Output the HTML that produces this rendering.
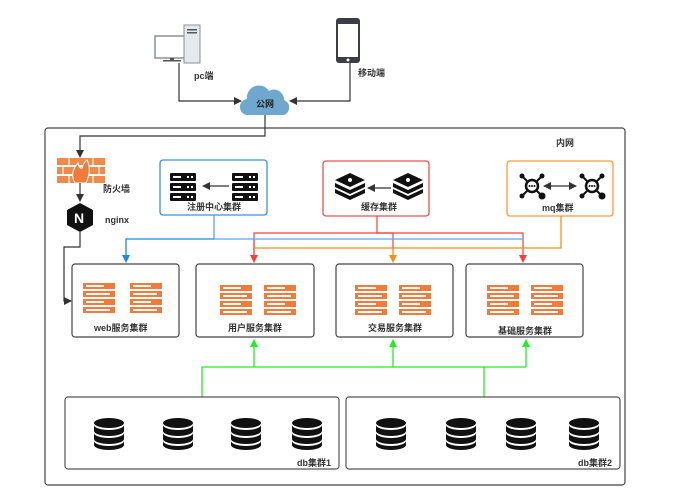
<!DOCTYPE html>
<html><head><meta charset="utf-8"><style>
body{margin:0;background:#fff}
svg{display:block}
text{font-family:"Liberation Sans","Noto Sans CJK SC",sans-serif;font-size:9px;font-weight:bold;fill:#333}
</style></head><body>
<svg width="677" height="492" viewBox="0 0 677 492" xmlns="http://www.w3.org/2000/svg">
<defs>
<marker id="ak" markerWidth="8" markerHeight="8" refX="7" refY="4" orient="auto" markerUnits="userSpaceOnUse"><path d="M0,0 L8,4 L0,8 z" fill="#333"/></marker>
<marker id="ab" markerWidth="8" markerHeight="8" refX="7" refY="4" orient="auto" markerUnits="userSpaceOnUse"><path d="M0,0 L8,4 L0,8 z" fill="#1e88e5"/></marker>
<marker id="ar" markerWidth="8" markerHeight="8" refX="7" refY="4" orient="auto" markerUnits="userSpaceOnUse"><path d="M0,0 L8,4 L0,8 z" fill="#f04040"/></marker>
<marker id="ao" markerWidth="8" markerHeight="8" refX="7" refY="4" orient="auto" markerUnits="userSpaceOnUse"><path d="M0,0 L8,4 L0,8 z" fill="#ff8c1a"/></marker>
<marker id="ag" markerWidth="8" markerHeight="8" refX="7" refY="4" orient="auto" markerUnits="userSpaceOnUse"><path d="M0,0 L8,4 L0,8 z" fill="#22ee22"/></marker>
<g id="srv"><rect x="0" y="0" width="32" height="6" fill="#f07b3a"/><rect x="3" y="2" width="18" height="2" fill="#fff"/><rect x="0" y="8" width="32" height="6" fill="#f07b3a"/><rect x="3" y="10" width="24" height="2" fill="#fff"/><rect x="0" y="16" width="32" height="6" fill="#f07b3a"/><rect x="3" y="18" width="18" height="2" fill="#fff"/><rect x="0" y="24" width="32" height="6" fill="#f07b3a"/><rect x="3" y="26" width="24" height="2" fill="#fff"/></g>
<g id="db"><ellipse cx="15" cy="5" rx="15" ry="5" fill="#111"/><path d="M0,7 v6 a15,5 0 0 0 30,0 v-6 a15,5 0 0 1 -30,0z" fill="#111"/><path d="M0,15 v6 a15,5 0 0 0 30,0 v-6 a15,5 0 0 1 -30,0z" fill="#111"/><path d="M0,23 v4 a15,5 0 0 0 30,0 v-4 a15,5 0 0 1 -30,0z" fill="#111"/></g>
<g id="bs"><rect x="0" y="0" width="26" height="8" rx="1" fill="#111"/><rect x="3" y="3" width="8" height="2" fill="#fff"/><rect x="17" y="3" width="2" height="2" fill="#fff"/><rect x="21" y="3" width="2" height="2" fill="#fff"/><rect x="0" y="10" width="26" height="8" rx="1" fill="#111"/><rect x="3" y="13" width="8" height="2" fill="#fff"/><rect x="17" y="13" width="2" height="2" fill="#fff"/><rect x="21" y="13" width="2" height="2" fill="#fff"/><rect x="0" y="20" width="26" height="8" rx="1" fill="#111"/><rect x="3" y="23" width="8" height="2" fill="#fff"/><rect x="17" y="23" width="2" height="2" fill="#fff"/><rect x="21" y="23" width="2" height="2" fill="#fff"/></g>
<g id="rd"><path d="M0,14 l15,-7 l15,7 l-15,7z" fill="#111"/><path d="M0,17 l15,7 l15,-7 v4 l-15,7 l-15,-7z" fill="#111"/><path d="M0,23 l15,7 l15,-7 v4 l-15,7 l-15,-7z" fill="#111"/><circle cx="15" cy="14" r="2" fill="#fff"/></g>
<g id="mq"><circle cx="12" cy="12" r="6" fill="#fff" stroke="#111" stroke-width="2.5"/><line x1="7" y1="7" x2="2" y2="2" stroke="#111" stroke-width="2"/><line x1="17" y1="7" x2="22" y2="2" stroke="#111" stroke-width="2"/><line x1="7" y1="17" x2="2" y2="22" stroke="#111" stroke-width="2"/><line x1="17" y1="17" x2="22" y2="22" stroke="#111" stroke-width="2"/><circle cx="2" cy="2" r="2.5" fill="#111"/><circle cx="22" cy="2" r="2.5" fill="#111"/><circle cx="2" cy="22" r="2.5" fill="#111"/><circle cx="22" cy="22" r="3.5" fill="#111"/><circle cx="9.5" cy="12" r="1" fill="#111"/><circle cx="12" cy="12" r="1" fill="#111"/><circle cx="14.5" cy="12" r="1" fill="#111"/></g>
</defs>

<rect x="155" y="36" width="34" height="22" fill="#fff" stroke="#8a9099" stroke-width="1.5"/>
<rect x="170" y="58" width="4" height="3" fill="#555"/><rect x="163" y="60" width="18" height="1.5" fill="#555"/>
<rect x="184" y="25" width="16" height="38" fill="#e5e8ec" stroke="#8a9099"/>
<rect x="187" y="29" width="10" height="1.5" fill="#555"/><rect x="187" y="32" width="10" height="1.5" fill="#555"/>
<rect x="336" y="18" width="24" height="45" rx="3" fill="#3a3d44"/><rect x="338" y="24" width="20" height="33" fill="#fff"/><circle cx="348" cy="60" r="1.5" fill="#fff"/>
<text x="194" y="79">pc端</text><text x="358" y="76">移动端</text>
<path d="M249,115 a8,8 0 0 1 -2,-16 a12,12 0 0 1 22,-8 a10,10 0 0 1 15,9 a8,8 0 0 1 0,15z" fill="#6fa8cf"/>
<text x="256" y="107" style="fill:#222">公网</text>
<polyline points="179,63 179,101 241,101" fill="none" stroke="#333" stroke-width="1.2" marker-end="url(#ak)"/>
<polyline points="350,63 350,101 290,101" fill="none" stroke="#333" stroke-width="1.2" marker-end="url(#ak)"/>

<rect x="45" y="128" width="580" height="357" rx="3" fill="none" stroke="#444" stroke-width="1.2"/>
<text x="556" y="146">内网</text>
<polyline points="265,115 265,136 80,136 80,157" fill="none" stroke="#333" stroke-width="1.2" marker-end="url(#ak)"/>

<g fill="#f08a4b"><rect x="57" y="158" width="48" height="7"/><rect x="57" y="167" width="48" height="7"/><rect x="57" y="176" width="48" height="7"/></g>
<g stroke="#fff" stroke-width="1.2"><line x1="69" y1="158" x2="69" y2="165"/><line x1="93" y1="158" x2="93" y2="165"/><line x1="63" y1="167" x2="63" y2="174"/><line x1="99" y1="167" x2="99" y2="174"/><line x1="69" y1="176" x2="69" y2="183"/><line x1="93" y1="176" x2="93" y2="183"/></g>
<path d="M75,183 q-6,-10 3,-20 q1,6 4,5 q2,-6 5,-8 q5,10 -1,23z" fill="#f07b3a" stroke="#fff" stroke-width="1"/>
<text x="103" y="192">防火墙</text>
<line x1="80" y1="183" x2="80" y2="201" stroke="#333" stroke-width="1.2" marker-end="url(#ak)"/>
<path d="M80,203 L93,210 L93,225 L80,232 L67,225 L67,210z" fill="#111"/>
<text x="74" y="223" style="fill:#fff;font-size:14px">N</text>
<text x="105" y="223">nginx</text>
<polyline points="80,232 80,247 64,247 64,301 71,301" fill="none" stroke="#333" stroke-width="1.2" marker-end="url(#ak)"/>

<rect x="160" y="160" width="107" height="55" rx="3" fill="#fff" stroke="#3d8fe0" stroke-width="1.3"/>
<use href="#bs" x="170" y="173"/><use href="#bs" x="232" y="173"/>
<line x1="229" y1="186" x2="203" y2="186" stroke="#333" stroke-width="1.2" marker-end="url(#ak)"/>
<text x="187" y="210">注册中心集群</text>

<rect x="323" y="161" width="106" height="55" rx="3" fill="#fff" stroke="#f05050" stroke-width="1.3"/>
<use href="#rd" x="335" y="166"/><use href="#rd" x="393" y="166"/>
<line x1="391" y1="188" x2="368" y2="188" stroke="#333" stroke-width="1.2" marker-end="url(#ak)"/>
<text x="361" y="210">缓存集群</text>

<rect x="507" y="161" width="106" height="55" rx="3" fill="#fff" stroke="#ff9a3a" stroke-width="1.3"/>
<use href="#mq" x="520" y="174"/><use href="#mq" x="580" y="174"/>
<line x1="548" y1="186" x2="576" y2="186" stroke="#333" stroke-width="1.2" marker-end="url(#ak)"/>
<line x1="552" y1="186" x2="544" y2="186" stroke="#333" stroke-width="1.2" marker-end="url(#ak)"/>
<text x="542" y="211">mq集群</text>

<polyline points="377,216 377,233 393,233 393,250" fill="none" stroke="#f04040" stroke-width="1.2"/>
<polyline points="254,262 254,233 523,233 523,262" fill="none" stroke="#f04040" stroke-width="1.2" marker-end="url(#ar)"/>
<line x1="254" y1="240" x2="254" y2="262" stroke="#f04040" stroke-width="1.2" marker-end="url(#ar)"/>
<polyline points="214,215 214,239 523,239" fill="none" stroke="#5aa5f0" stroke-width="1.3"/>
<polyline points="214,239 126,239 126,262" fill="none" stroke="#1e88e5" stroke-width="1.3" marker-end="url(#ab)"/>
<polyline points="561,216 561,248 254,248" fill="none" stroke="#ff8c1a" stroke-width="1.3"/>
<line x1="393" y1="248" x2="393" y2="262" stroke="#ff8c1a" stroke-width="1.3" marker-end="url(#ao)"/>

<rect x="72" y="264" width="107" height="73" rx="3" fill="#fff" stroke="#444" stroke-width="1.2"/>
<use href="#srv" x="83" y="283"/><use href="#srv" x="130" y="283"/>
<text x="94" y="331">web服务集群</text>
<rect x="196" y="264" width="118" height="73" rx="3" fill="#fff" stroke="#444" stroke-width="1.2"/>
<use href="#srv" x="220" y="285"/><use href="#srv" x="264" y="285"/>
<text x="228" y="331">用户服务集群</text>
<rect x="336" y="264" width="117" height="73" rx="3" fill="#fff" stroke="#444" stroke-width="1.2"/>
<use href="#srv" x="355" y="285"/><use href="#srv" x="399" y="285"/>
<text x="368" y="331">交易服务集群</text>
<rect x="466" y="264" width="117" height="73" rx="3" fill="#fff" stroke="#444" stroke-width="1.2"/>
<use href="#srv" x="487" y="285"/><use href="#srv" x="531" y="285"/>
<text x="498" y="334">基础服务集群</text>

<polyline points="202,397 202,367 526,367" fill="none" stroke="#22ee22" stroke-width="1.3"/>
<line x1="484" y1="397" x2="484" y2="367" stroke="#22ee22" stroke-width="1.3"/>
<line x1="254" y1="367" x2="254" y2="340" stroke="#22ee22" stroke-width="1.3" marker-end="url(#ag)"/>
<line x1="393" y1="367" x2="393" y2="340" stroke="#22ee22" stroke-width="1.3" marker-end="url(#ag)"/>
<line x1="526" y1="367" x2="526" y2="340" stroke="#22ee22" stroke-width="1.3" marker-end="url(#ag)"/>

<rect x="65" y="397" width="274" height="72" rx="3" fill="#fff" stroke="#555" stroke-width="1.2"/>
<rect x="346" y="397" width="274" height="72" rx="3" fill="#fff" stroke="#555" stroke-width="1.2"/>
<use href="#db" x="94" y="418"/><use href="#db" x="163" y="418"/><use href="#db" x="231" y="418"/><use href="#db" x="292" y="418"/>
<use href="#db" x="376" y="418"/><use href="#db" x="446" y="418"/><use href="#db" x="506" y="418"/><use href="#db" x="569" y="418"/>
<text x="297" y="466">db集群1</text>
<text x="578" y="466">db集群2</text>
</svg>
</body></html>
